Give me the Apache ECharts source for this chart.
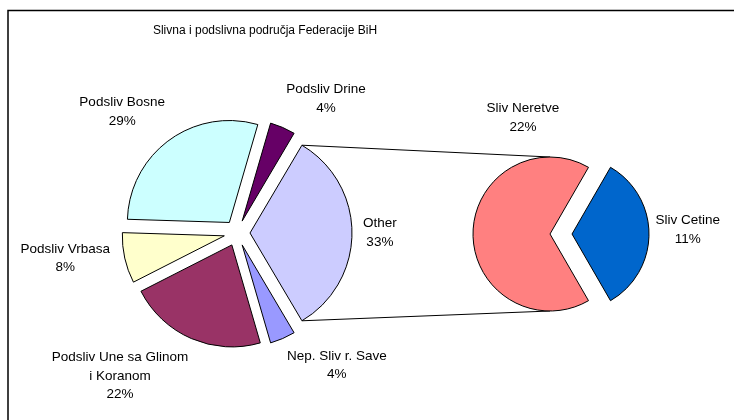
<!DOCTYPE html>
<html>
<head>
<meta charset="utf-8">
<script src="https://cdn.jsdelivr.net/npm/echarts@6/dist/echarts.min.js"></script>
<style>
  html, body { margin: 0; padding: 0; background: #fff; }
  #main { width: 734px; height: 420px; }
</style>
</head>
<body>
<div id="main"></div>
<script>
// podaci (postotci), redoslijed u smjeru kazaljke od "Other"
const mainCategories = ['Nep. Sliv r. Save', 'Podsliv Une sa Glinom i Koranom', 'Podsliv Vrbasa', 'Podsliv Bosne', 'Podsliv Drine'];
const mainValues = [4, 22, 8, 29, 4];
const mainColors = ['#9999FF', '#993366', '#FFFFCC', '#CCFFFF', '#660066'];
const otherName = 'Other';
const otherColor = '#CCCCFF';
const subCategories = ['Sliv Cetine', 'Sliv Neretve'];
const subValues = [11, 22];
const subColors = ['#0066CC', '#FF8080'];

// raspored
const font = 'Liberation Sans, Arial, sans-serif';
const fontSize = 13.5, lineH = 18.5;
const c1 = [237, 233], r1 = 102, off1 = 13;
const c2 = [550, 234], r2 = 77, off2 = 22;
// natpisi: [pomak kuta od sredine isjecka, razmak od ruba] (excel "best fit")
const labelPlace = {
  'Other': [0, 11], 'Nep. Sliv r. Save': [13.6, 6], 'Podsliv Une sa Glinom i Koranom': [-15.9, 5],
  'Podsliv Vrbasa': [-4.3, 11.5], 'Podsliv Bosne': [7.5, 9], 'Podsliv Drine': [-10.2, 8.5],
  'Sliv Cetine': [1.7, 6], 'Sliv Neretve': [-76.9, 16]
};

const otherValue = subValues.reduce((a, b) => a + b, 0);
const total1 = otherValue + mainValues.reduce((a, b) => a + b, 0);
const start1 = otherValue / total1 * 360 / 2;
const start2 = subValues[0] / otherValue * 360 / 2;

function midAngles (values, total, start) {
  let cum = 0
  return values.map(v => {
    const m = start - (cum + v / 2) / total * 360
    cum += v
    return m
  })
}
const mainNamesAll = [otherName].concat(mainCategories);
const mainValuesAll = [otherValue].concat(mainValues);
const mids1 = midAngles(mainValuesAll, total1, start1);
const mids2 = midAngles(subValues, otherValue, start2);

const ctx = document.createElement('canvas').getContext('2d');
ctx.font = fontSize + 'px ' + font;
function textBox (lines) {
  return { w: Math.max.apply(null, lines.map(l => ctx.measureText(l).width)), h: lines.length * lineH }
}
function labelLines (name, value) {
  const k = name.lastIndexOf(' i ')
  const lines = name.length > 20 && k > 0 ? [name.slice(0, k), name.slice(k + 1)] : [name]
  return lines.concat([value + '%'])
}

function placeLabel (center, r, offs, mids, names, values) {
  return function (params) {
    const i = params.dataIndex
    const name = names[i]
    const pl = labelPlace[name] || [0, 8]
    const rad = (mids[i] + pl[0]) * Math.PI / 180
    const box = textBox(labelLines(name, values[i]))
    const d = r + offs[i] + pl[1] + Math.abs(Math.cos(rad)) * box.w / 2 + Math.abs(Math.sin(rad)) * box.h / 2
    return {
      x: center[0] + d * Math.cos(rad),
      y: center[1] - d * Math.sin(rad),
      align: 'center',
      verticalAlign: 'middle'
    }
  }
}

const mainData = mainNamesAll.map((n, i) => ({
  name: n, value: mainValuesAll[i], selected: true,
  itemStyle: { color: i === 0 ? otherColor : mainColors[i - 1] }
}));
const subData = subCategories.map((n, i) => ({
  name: n, value: subValues[i], selected: i === 0, itemStyle: { color: subColors[i] }
}));

// spojne linije izmedju "Other" i drugog kruga
const aTop = start1 * Math.PI / 180;
const p1 = [c1[0] + off1 + r1 * Math.cos(aTop), c1[1] - r1 * Math.sin(aTop)];
const p2 = [c1[0] + off1 + r1 * Math.cos(aTop), c1[1] + r1 * Math.sin(aTop)];

const labelStyle = {
  show: true,
  position: 'outside',
  formatter: p => labelLines(p.name, p.value).join('\n'),
  color: '#000',
  fontFamily: font,
  fontSize: fontSize,
  lineHeight: lineH
};

function slicePie (center, r, start, off, data) {
  return {
    type: 'pie', center: center, radius: r, startAngle: start, clockwise: true,
    selectedMode: 'multiple', selectedOffset: off, silent: true,
    emphasis: { disabled: true },
    itemStyle: { borderColor: '#000', borderWidth: 1 },
    label: { show: false }, labelLine: { show: false },
    data: data
  }
}
// prozirni krug samo za natpise
function labelPie (center, r, start, offs, mids, names, values) {
  return {
    type: 'pie', center: center, radius: r, startAngle: start, clockwise: true,
    silent: true, avoidLabelOverlap: false,
    emphasis: { disabled: true },
    itemStyle: { color: 'rgba(0,0,0,0)', borderWidth: 0 },
    label: labelStyle, labelLine: { show: false },
    labelLayout: placeLabel(center, r, offs, mids, names, values),
    data: names.map((n, i) => ({ name: n, value: values[i] }))
  }
}

const chart = echarts.init(document.getElementById('main'));
chart.setOption({
  animation: false,
  backgroundColor: '#fff',
  title: {
    text: 'Slivna i podslivna područja Federacije BiH',
    left: 260,
    top: 20,
    textAlign: 'center',
    textStyle: { fontFamily: font, fontSize: 12, fontWeight: 'normal', color: '#000' }
  },
  graphic: [
    { type: 'rect', z: -10, shape: { x: 8, y: 10.5, width: 760, height: 450 }, style: { fill: 'none', stroke: '#000', lineWidth: 1.5 } },
    { type: 'line', shape: { x1: p1[0], y1: p1[1], x2: c2[0], y2: c2[1] - r2 }, style: { stroke: '#000', lineWidth: 1 } },
    { type: 'line', shape: { x1: p2[0], y1: p2[1], x2: c2[0], y2: c2[1] + r2 }, style: { stroke: '#000', lineWidth: 1 } }
  ],
  series: [
    slicePie(c1, r1, start1, off1, mainData),
    slicePie(c2, r2, start2, off2, subData),
    labelPie(c1, r1, start1, mainNamesAll.map(() => off1), mids1, mainNamesAll, mainValuesAll),
    labelPie(c2, r2, start2, subData.map(d => d.selected ? off2 : 0), mids2, subCategories, subValues)
  ]
});
</script>
</body>
</html>
